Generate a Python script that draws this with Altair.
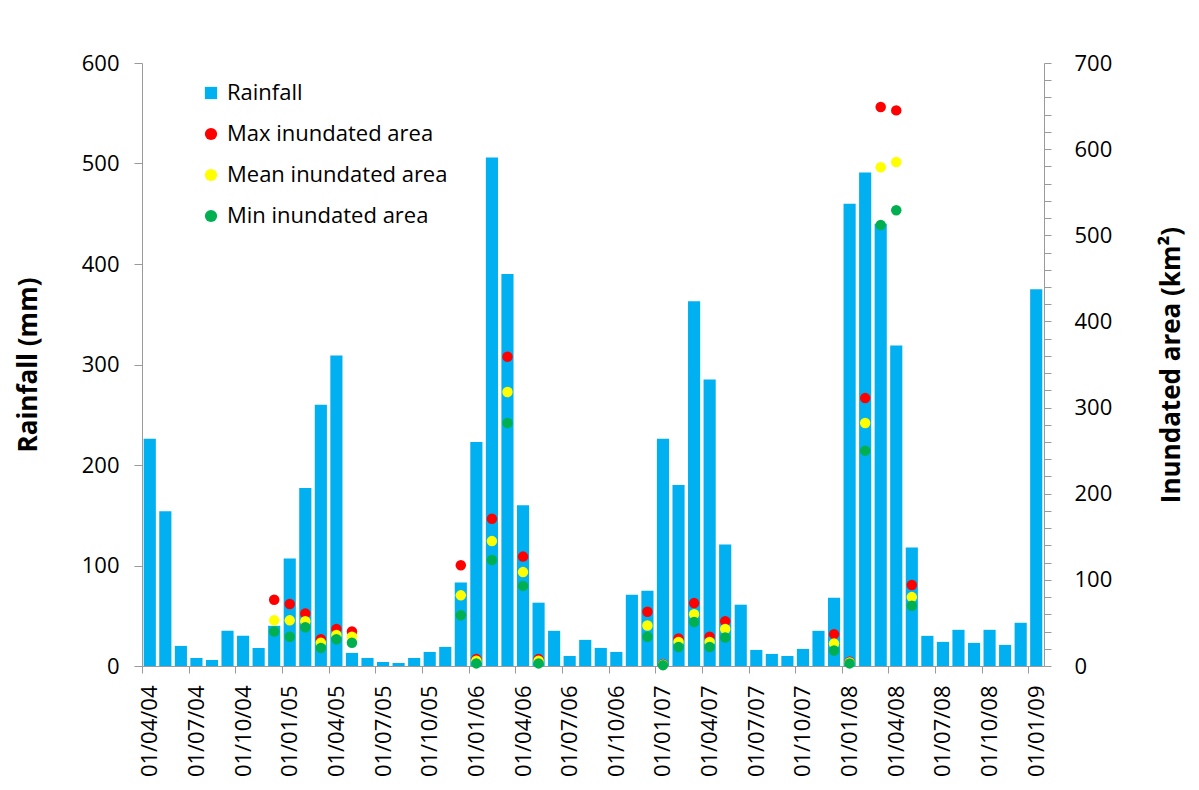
import altair as alt
import pandas as pd

# ---- data ----
months = [
    "01/04/04", "01/05/04", "01/06/04", "01/07/04", "01/08/04", "01/09/04",
    "01/10/04", "01/11/04", "01/12/04",
    "01/01/05", "01/02/05", "01/03/05", "01/04/05", "01/05/05", "01/06/05",
    "01/07/05", "01/08/05", "01/09/05", "01/10/05", "01/11/05", "01/12/05",
    "01/01/06", "01/02/06", "01/03/06", "01/04/06", "01/05/06", "01/06/06",
    "01/07/06", "01/08/06", "01/09/06", "01/10/06", "01/11/06", "01/12/06",
    "01/01/07", "01/02/07", "01/03/07", "01/04/07", "01/05/07", "01/06/07",
    "01/07/07", "01/08/07", "01/09/07", "01/10/07", "01/11/07", "01/12/07",
    "01/01/08", "01/02/08", "01/03/08", "01/04/08", "01/05/08", "01/06/08",
    "01/07/08", "01/08/08", "01/09/08", "01/10/08", "01/11/08", "01/12/08",
    "01/01/09",
]
rainfall = [
    226, 154, 20, 8, 6, 35, 30, 18, 40,
    107, 177, 260, 309, 13, 8, 4, 3, 8, 14, 19, 83,
    223, 506, 390, 160, 63, 35, 10, 26, 18, 14, 71, 75,
    226, 180, 363, 285, 121, 61, 16, 12, 10, 17, 35, 68,
    460, 491, 440, 319, 118, 30, 24, 36, 23, 36, 21, 43,
    375,
]

area_months = [
    "01/12/04", "01/01/05", "01/02/05", "01/03/05", "01/04/05", "01/05/05",
    "01/12/05", "01/01/06", "01/02/06", "01/03/06", "01/04/06", "01/05/06",
    "01/12/06", "01/01/07", "01/02/07", "01/03/07", "01/04/07", "01/05/07",
    "01/12/07", "01/01/08", "01/02/08", "01/03/08", "01/04/08", "01/05/08",
]
max_area = [77, 72, 61, 31, 43, 40,
            117, 8, 171, 359, 127, 8,
            63, 2, 32, 73, 34, 52,
            37, 5, 311, 649, 645, 94]
mean_area = [53, 53, 52, 27, 36, 34,
             82, 6, 145, 318, 109, 6,
             47, 1.5, 28, 60, 28, 43,
             26, 4, 282, 579, 585, 80]
min_area = [40, 34, 45, 21, 31, 27,
            59, 3, 123, 282, 93, 3,
            34, 1, 22, 51, 22, 33,
            18, 3, 250, 512, 529, 70]

series_names = ["Rainfall", "Max inundated area", "Mean inundated area", "Min inundated area"]
series_colors = ["#00B0F0", "#FF0000", "#FFFF00", "#00B050"]
series_shapes = ["square", "circle", "circle", "circle"]

rain_df = pd.DataFrame({"month": months, "rain": rainfall, "series": series_names[0]})
rows = []
for name, vals in zip(series_names[1:], [max_area, mean_area, min_area]):
    for m, v in zip(area_months, vals):
        rows.append({"month": m, "series": name, "area": v})
area_df = pd.DataFrame(rows)

# ---- layout ----
W, H = 902, 603
step = W / len(months)
FONT = "Open Sans"

x_enc = alt.X(
    "month:N",
    sort=months,
    scale=alt.Scale(domain=months, paddingInner=0.22, paddingOuter=0.11),
    axis=alt.Axis(
        values=months[::3],
        labelAngle=-90,
        title=None,
        tickOffset=-step / 2,
        labelOffset=step / 2,
        tickSize=7,
        labelPadding=12,
        labelFontSize=22,
        domainColor="#9a9a9a",
        tickColor="#9a9a9a",
        labelColor="#000000",
        labelFont=FONT,
    ),
)

color_scale = alt.Scale(domain=series_names, range=series_colors)
shape_scale = alt.Scale(domain=series_names, range=series_shapes)

legend = alt.Legend(
    title=None,
    orient="none",
    legendX=58,
    legendY=19,
    labelFontSize=22,
    labelFont=FONT,
    labelColor="#000000",
    labelLimit=500,
    symbolSize=150,
    symbolStrokeWidth=0,
    rowPadding=19,
    labelOffset=5,
    padding=0,
)

bars = alt.Chart(rain_df).mark_bar().encode(
    x=x_enc,
    y=alt.Y(
        "rain:Q",
        scale=alt.Scale(domain=[0, 600], nice=False),
        axis=alt.Axis(
            values=list(range(0, 601, 100)),
            title="Rainfall (mm)",
            titleFontSize=26,
            titleFontWeight="bold",
            titleFont=FONT,
            titleColor="#000000",
            titlePadding=40,
            labelFontSize=22,
            labelFont=FONT,
            labelColor="#000000",
            tickSize=8,
            labelPadding=15,
            domainColor="#9a9a9a",
            tickColor="#9a9a9a",
            grid=False,
        ),
    ),
    color=alt.Color("series:N", scale=color_scale, legend=legend),
)

points = alt.Chart(area_df).mark_point(filled=True, size=110, opacity=1).encode(
    x=x_enc,
    y=alt.Y(
        "area:Q",
        scale=alt.Scale(domain=[0, 700], nice=False),
        axis=alt.Axis(
            orient="right",
            values=list(range(0, 701, 20)),
            labelExpr="datum.value % 100 == 0 ? datum.label : ''",
            labelOverlap=False,
            title="Inundated area (km²)",
            titleAngle=270,
            titleFontSize=26,
            titleFontWeight="bold",
            titleFont=FONT,
            titleColor="#000000",
            titlePadding=73,
            labelFontSize=22,
            labelFont=FONT,
            labelColor="#000000",
            tickSize=7,
            labelPadding=23,
            domainColor="#9a9a9a",
            tickColor="#9a9a9a",
            grid=False,
        ),
    ),
    color=alt.Color("series:N", scale=color_scale, legend=legend),
    shape=alt.Shape("series:N", scale=shape_scale, legend=legend),
)

chart = (
    alt.layer(bars, points)
    .resolve_scale(y="independent")
    .properties(
        width=W,
        height=H,
        padding={"left": 7, "top": 44, "right": 5, "bottom": 0},
        background="#ffffff",
    )
    .configure_view(stroke="transparent")
)

chart.save("out.html", embed_options={"renderer": "svg", "actions": False})
